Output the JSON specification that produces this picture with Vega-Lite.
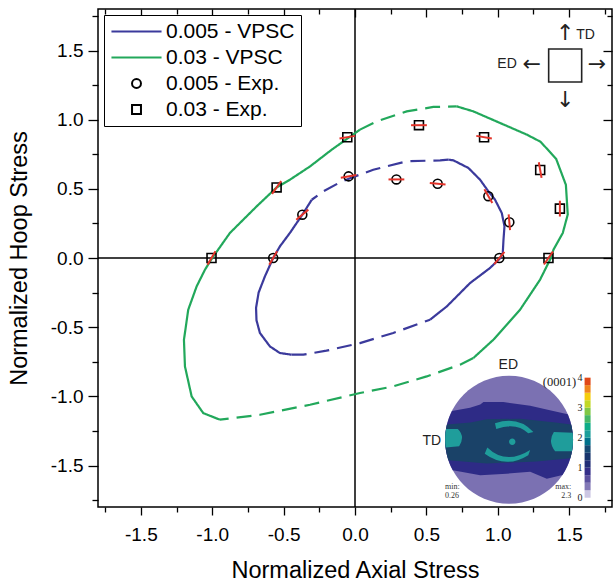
{
  "$schema": "https://vega.github.io/schema/vega-lite/v6.json",
  "width": 514,
  "height": 498,
  "autosize": {"type": "none"},
  "padding": {"left": 98, "top": 9, "right": 2, "bottom": 74},
  "background": "white",
  "config": {
    "view": {"stroke": "black", "strokeWidth": 1.5},
    "font": "Liberation Sans",
    "axis": {
      "domain": false,
      "grid": false,
      "tickColor": "black",
      "tickWidth": 1.3,
      "labelColor": "black",
      "labelFont": "Liberation Sans",
      "labelFontSize": 19,
      "titleFont": "Liberation Sans",
      "titleFontSize": 23.5,
      "titleFontWeight": "normal",
      "titleColor": "black",
      "labelOverlap": false,
      "labelFlush": false,
      "labelBound": false
    }
  },
  "datasets": {
    "curves": [
      {"series": "0.005 - VPSC", "seg": "b1", "style": "solid", "i": 0, "x": -0.303, "y": 0.421},
      {"series": "0.005 - VPSC", "seg": "b1", "style": "solid", "i": 1, "x": -0.369, "y": 0.313},
      {"series": "0.005 - VPSC", "seg": "b1", "style": "solid", "i": 2, "x": -0.456, "y": 0.181},
      {"series": "0.005 - VPSC", "seg": "b1", "style": "solid", "i": 3, "x": -0.526, "y": 0.084},
      {"series": "0.005 - VPSC", "seg": "b1", "style": "solid", "i": 4, "x": -0.573, "y": 0.0},
      {"series": "0.005 - VPSC", "seg": "b1", "style": "solid", "i": 5, "x": -0.631, "y": -0.133},
      {"series": "0.005 - VPSC", "seg": "b1", "style": "solid", "i": 6, "x": -0.675, "y": -0.25},
      {"series": "0.005 - VPSC", "seg": "b1", "style": "solid", "i": 7, "x": -0.693, "y": -0.36},
      {"series": "0.005 - VPSC", "seg": "b1", "style": "solid", "i": 8, "x": -0.69, "y": -0.45},
      {"series": "0.005 - VPSC", "seg": "b1", "style": "solid", "i": 9, "x": -0.666, "y": -0.542},
      {"series": "0.005 - VPSC", "seg": "b1", "style": "solid", "i": 10, "x": -0.596, "y": -0.639},
      {"series": "0.005 - VPSC", "seg": "b1", "style": "solid", "i": 11, "x": -0.526, "y": -0.687},
      {"series": "0.005 - VPSC", "seg": "b1", "style": "solid", "i": 12, "x": -0.444, "y": -0.699},
      {"series": "0.005 - VPSC", "seg": "b2", "style": "dashed", "i": 0, "x": -0.444, "y": -0.699},
      {"series": "0.005 - VPSC", "seg": "b2", "style": "dashed", "i": 1, "x": -0.362, "y": -0.699},
      {"series": "0.005 - VPSC", "seg": "b2", "style": "dashed", "i": 2, "x": -0.2, "y": -0.67},
      {"series": "0.005 - VPSC", "seg": "b2", "style": "dashed", "i": 3, "x": 0.035, "y": -0.615},
      {"series": "0.005 - VPSC", "seg": "b2", "style": "dashed", "i": 4, "x": 0.268, "y": -0.542},
      {"series": "0.005 - VPSC", "seg": "b2", "style": "dashed", "i": 5, "x": 0.526, "y": -0.446},
      {"series": "0.005 - VPSC", "seg": "b3", "style": "solid", "i": 0, "x": 0.526, "y": -0.446},
      {"series": "0.005 - VPSC", "seg": "b3", "style": "solid", "i": 1, "x": 0.643, "y": -0.35},
      {"series": "0.005 - VPSC", "seg": "b3", "style": "solid", "i": 2, "x": 0.806, "y": -0.181},
      {"series": "0.005 - VPSC", "seg": "b3", "style": "solid", "i": 3, "x": 0.946, "y": -0.072},
      {"series": "0.005 - VPSC", "seg": "b3", "style": "solid", "i": 4, "x": 1.018, "y": 0.0},
      {"series": "0.005 - VPSC", "seg": "b3", "style": "solid", "i": 5, "x": 1.035, "y": 0.036},
      {"series": "0.005 - VPSC", "seg": "b3", "style": "solid", "i": 6, "x": 1.04, "y": 0.132},
      {"series": "0.005 - VPSC", "seg": "b3", "style": "solid", "i": 7, "x": 1.047, "y": 0.229},
      {"series": "0.005 - VPSC", "seg": "b3", "style": "solid", "i": 8, "x": 1.028, "y": 0.325},
      {"series": "0.005 - VPSC", "seg": "b3", "style": "solid", "i": 9, "x": 0.981, "y": 0.421},
      {"series": "0.005 - VPSC", "seg": "b3", "style": "solid", "i": 10, "x": 0.934, "y": 0.482},
      {"series": "0.005 - VPSC", "seg": "b3", "style": "solid", "i": 11, "x": 0.876, "y": 0.566},
      {"series": "0.005 - VPSC", "seg": "b3", "style": "solid", "i": 12, "x": 0.794, "y": 0.651},
      {"series": "0.005 - VPSC", "seg": "b3", "style": "solid", "i": 13, "x": 0.689, "y": 0.706},
      {"series": "0.005 - VPSC", "seg": "b3", "style": "solid", "i": 14, "x": 0.654, "y": 0.711},
      {"series": "0.005 - VPSC", "seg": "b4", "style": "dashed", "i": 0, "x": 0.654, "y": 0.711},
      {"series": "0.005 - VPSC", "seg": "b4", "style": "dashed", "i": 1, "x": 0.596, "y": 0.706},
      {"series": "0.005 - VPSC", "seg": "b4", "style": "dashed", "i": 2, "x": 0.362, "y": 0.699},
      {"series": "0.005 - VPSC", "seg": "b4", "style": "dashed", "i": 3, "x": 0.128, "y": 0.638},
      {"series": "0.005 - VPSC", "seg": "b4", "style": "dashed", "i": 4, "x": 0.0, "y": 0.59},
      {"series": "0.005 - VPSC", "seg": "b4", "style": "dashed", "i": 5, "x": -0.105, "y": 0.547},
      {"series": "0.005 - VPSC", "seg": "b4", "style": "dashed", "i": 6, "x": -0.222, "y": 0.482},
      {"series": "0.005 - VPSC", "seg": "b4", "style": "dashed", "i": 7, "x": -0.303, "y": 0.421},
      {"series": "0.03 - VPSC", "seg": "g1", "style": "solid", "i": 0, "x": -0.946, "y": -1.169},
      {"series": "0.03 - VPSC", "seg": "g1", "style": "solid", "i": 1, "x": -1.063, "y": -1.121},
      {"series": "0.03 - VPSC", "seg": "g1", "style": "solid", "i": 2, "x": -1.144, "y": -1.001},
      {"series": "0.03 - VPSC", "seg": "g1", "style": "solid", "i": 3, "x": -1.191, "y": -0.784},
      {"series": "0.03 - VPSC", "seg": "g1", "style": "solid", "i": 4, "x": -1.198, "y": -0.591},
      {"series": "0.03 - VPSC", "seg": "g1", "style": "solid", "i": 5, "x": -1.168, "y": -0.374},
      {"series": "0.03 - VPSC", "seg": "g1", "style": "solid", "i": 6, "x": -1.109, "y": -0.205},
      {"series": "0.03 - VPSC", "seg": "g1", "style": "solid", "i": 7, "x": -1.051, "y": -0.085},
      {"series": "0.03 - VPSC", "seg": "g1", "style": "solid", "i": 8, "x": -1.0, "y": 0.0},
      {"series": "0.03 - VPSC", "seg": "g1", "style": "solid", "i": 9, "x": -0.876, "y": 0.181},
      {"series": "0.03 - VPSC", "seg": "g1", "style": "solid", "i": 10, "x": -0.689, "y": 0.373},
      {"series": "0.03 - VPSC", "seg": "g1", "style": "solid", "i": 11, "x": -0.549, "y": 0.51},
      {"series": "0.03 - VPSC", "seg": "g1", "style": "solid", "i": 12, "x": -0.456, "y": 0.566},
      {"series": "0.03 - VPSC", "seg": "g1", "style": "solid", "i": 13, "x": -0.315, "y": 0.662},
      {"series": "0.03 - VPSC", "seg": "g1", "style": "solid", "i": 14, "x": -0.163, "y": 0.783},
      {"series": "0.03 - VPSC", "seg": "g1", "style": "solid", "i": 15, "x": 0.035, "y": 0.928},
      {"series": "0.03 - VPSC", "seg": "g2", "style": "dashed", "i": 0, "x": 0.035, "y": 0.928},
      {"series": "0.03 - VPSC", "seg": "g2", "style": "dashed", "i": 1, "x": 0.152, "y": 0.988},
      {"series": "0.03 - VPSC", "seg": "g2", "style": "dashed", "i": 2, "x": 0.362, "y": 1.06},
      {"series": "0.03 - VPSC", "seg": "g2", "style": "dashed", "i": 3, "x": 0.549, "y": 1.092},
      {"series": "0.03 - VPSC", "seg": "g2", "style": "dashed", "i": 4, "x": 0.713, "y": 1.096},
      {"series": "0.03 - VPSC", "seg": "g3", "style": "solid", "i": 0, "x": 0.713, "y": 1.096},
      {"series": "0.03 - VPSC", "seg": "g3", "style": "solid", "i": 1, "x": 0.829, "y": 1.06},
      {"series": "0.03 - VPSC", "seg": "g3", "style": "solid", "i": 2, "x": 1.016, "y": 0.976},
      {"series": "0.03 - VPSC", "seg": "g3", "style": "solid", "i": 3, "x": 1.203, "y": 0.892},
      {"series": "0.03 - VPSC", "seg": "g3", "style": "solid", "i": 4, "x": 1.3, "y": 0.84},
      {"series": "0.03 - VPSC", "seg": "g3", "style": "solid", "i": 5, "x": 1.409, "y": 0.716},
      {"series": "0.03 - VPSC", "seg": "g3", "style": "solid", "i": 6, "x": 1.477, "y": 0.529},
      {"series": "0.03 - VPSC", "seg": "g3", "style": "solid", "i": 7, "x": 1.49, "y": 0.314},
      {"series": "0.03 - VPSC", "seg": "g3", "style": "solid", "i": 8, "x": 1.455, "y": 0.18},
      {"series": "0.03 - VPSC", "seg": "g3", "style": "solid", "i": 9, "x": 1.39, "y": 0.06},
      {"series": "0.03 - VPSC", "seg": "g3", "style": "solid", "i": 10, "x": 1.372, "y": 0.0},
      {"series": "0.03 - VPSC", "seg": "g3", "style": "solid", "i": 11, "x": 1.296, "y": -0.157},
      {"series": "0.03 - VPSC", "seg": "g3", "style": "solid", "i": 12, "x": 1.156, "y": -0.374},
      {"series": "0.03 - VPSC", "seg": "g3", "style": "solid", "i": 13, "x": 0.969, "y": -0.591},
      {"series": "0.03 - VPSC", "seg": "g3", "style": "solid", "i": 14, "x": 0.829, "y": -0.723},
      {"series": "0.03 - VPSC", "seg": "g4", "style": "dashed", "i": 0, "x": 0.829, "y": -0.723},
      {"series": "0.03 - VPSC", "seg": "g4", "style": "dashed", "i": 1, "x": 0.736, "y": -0.771},
      {"series": "0.03 - VPSC", "seg": "g4", "style": "dashed", "i": 2, "x": 0.502, "y": -0.856},
      {"series": "0.03 - VPSC", "seg": "g4", "style": "dashed", "i": 3, "x": 0.268, "y": -0.928},
      {"series": "0.03 - VPSC", "seg": "g4", "style": "dashed", "i": 4, "x": 0.035, "y": -0.976},
      {"series": "0.03 - VPSC", "seg": "g4", "style": "dashed", "i": 5, "x": -0.315, "y": -1.061},
      {"series": "0.03 - VPSC", "seg": "g4", "style": "dashed", "i": 6, "x": -0.666, "y": -1.133},
      {"series": "0.03 - VPSC", "seg": "g4", "style": "dashed", "i": 7, "x": -0.946, "y": -1.169}
    ],
    "exp": [
      {"series": "0.005 - Exp.", "x": -0.573, "y": 0.0, "dir": 300},
      {"series": "0.005 - Exp.", "x": -0.369, "y": 0.313, "dir": 320},
      {"series": "0.005 - Exp.", "x": -0.045, "y": 0.59, "dir": 350},
      {"series": "0.005 - Exp.", "x": 0.29, "y": 0.568, "dir": 0},
      {"series": "0.005 - Exp.", "x": 0.579, "y": 0.537, "dir": 5},
      {"series": "0.005 - Exp.", "x": 0.934, "y": 0.447, "dir": 60},
      {"series": "0.005 - Exp.", "x": 1.081, "y": 0.259, "dir": 85},
      {"series": "0.005 - Exp.", "x": 1.011, "y": 0.0, "dir": 310},
      {"series": "0.03 - Exp.", "x": -1.005, "y": 0.0, "dir": 300},
      {"series": "0.03 - Exp.", "x": -0.549, "y": 0.51, "dir": 305},
      {"series": "0.03 - Exp.", "x": -0.054, "y": 0.873, "dir": 350},
      {"series": "0.03 - Exp.", "x": 0.448, "y": 0.96, "dir": 0},
      {"series": "0.03 - Exp.", "x": 0.904, "y": 0.873, "dir": 10},
      {"series": "0.03 - Exp.", "x": 1.297, "y": 0.636, "dir": 80},
      {"series": "0.03 - Exp.", "x": 1.435, "y": 0.357, "dir": 90},
      {"series": "0.03 - Exp.", "x": 1.355, "y": 0.0, "dir": 305}
    ],
    "pf": [{"x": 1.079, "y": -1.314}],
    "cbar": [
      {"v": 0.125, "y0": -1.733, "y1": -1.679},
      {"v": 0.375, "y0": -1.679, "y1": -1.625},
      {"v": 0.625, "y0": -1.625, "y1": -1.57},
      {"v": 0.875, "y0": -1.57, "y1": -1.516},
      {"v": 1.125, "y0": -1.516, "y1": -1.462},
      {"v": 1.375, "y0": -1.462, "y1": -1.408},
      {"v": 1.625, "y0": -1.408, "y1": -1.353},
      {"v": 1.875, "y0": -1.353, "y1": -1.299},
      {"v": 2.125, "y0": -1.299, "y1": -1.245},
      {"v": 2.375, "y0": -1.245, "y1": -1.191},
      {"v": 2.625, "y0": -1.191, "y1": -1.136},
      {"v": 2.875, "y0": -1.136, "y1": -1.082},
      {"v": 3.125, "y0": -1.082, "y1": -1.028},
      {"v": 3.375, "y0": -1.028, "y1": -0.974},
      {"v": 3.625, "y0": -0.974, "y1": -0.919},
      {"v": 3.875, "y0": -0.919, "y1": -0.865}
    ],
    "cbarlab": [
      {"t": "0", "y": -1.733},
      {"t": "1", "y": -1.516},
      {"t": "2", "y": -1.299},
      {"t": "3", "y": -1.082},
      {"t": "4", "y": -0.87}
    ],
    "sansC": [
      {"x": 1.065, "y": 1.4, "t": "ED"},
      {"x": 1.074, "y": -0.772, "t": "ED"}
    ],
    "sansL": [{"x": 1.549, "y": 1.615, "t": "TD"}],
    "sansR": [{"x": 0.603, "y": -1.326, "t": "TD"}],
    "arrows": [
      {"x": 1.238, "y": 1.4, "t": "←"},
      {"x": 1.694, "y": 1.4, "t": "→"},
      {"x": 1.472, "y": 1.627, "t": "↑"},
      {"x": 1.472, "y": 1.145, "t": "↓"}
    ],
    "box": [{"x": 1.472, "y": 1.392}],
    "serifL": [
      {"x": 0.631, "y": -1.656, "t": "min:"},
      {"x": 0.631, "y": -1.724, "t": "0.26"}
    ],
    "serifR": [
      {"x": 1.514, "y": -1.656, "t": "max:"},
      {"x": 1.514, "y": -1.724, "t": "2.3"}
    ],
    "pole": [{"x": 1.549, "y": -0.893, "t": "(0001)"}]
  },
  "layer": [
    {
      "data": {"name": "pf"},
      "mark": {"type": "rule", "color": "black", "strokeWidth": 1.5},
      "encoding": {
        "x": {"datum": 0, "type": "quantitative", "scale": {"domain": [-1.8, 1.8], "nice": false, "zero": false}, "axis": null}
      }
    },
    {
      "data": {"name": "pf"},
      "mark": {"type": "rule", "color": "black", "strokeWidth": 1.5},
      "encoding": {
        "y": {"datum": 0, "type": "quantitative", "scale": {"domain": [-1.8, 1.8], "nice": false, "zero": false}, "axis": null}
      }
    },
    {
      "data": {"name": "curves"},
      "mark": {"type": "line", "strokeWidth": 2.2},
      "encoding": {
        "x": {
          "field": "x", "type": "quantitative",
          "scale": {"domain": [-1.8, 1.8], "nice": false, "zero": false},
          "axis": {
            "orient": "bottom",
            "title": "Normalized Axial Stress",
            "values": [-1.75, -1.5, -1.25, -1, -0.75, -0.5, -0.25, 0, 0.25, 0.5, 0.75, 1, 1.25, 1.5, 1.75],
            "labelExpr": "abs(datum.value*2 - round(datum.value*2)) < 0.01 ? (datum.value < 0 ? '-' : '') + format(abs(datum.value), '.1f') : ''",
            "tickSize": {"condition": {"test": "abs(datum.value*2 - round(datum.value*2)) < 0.01", "value": 8}, "value": 5},
            "labelPadding": 10,
            "titlePadding": 14
          }
        },
        "y": {
          "field": "y", "type": "quantitative",
          "scale": {"domain": [-1.8, 1.8], "nice": false, "zero": false},
          "axis": {
            "orient": "left",
            "title": "Normalized Hoop Stress",
            "values": [-1.75, -1.5, -1.25, -1, -0.75, -0.5, -0.25, 0, 0.25, 0.5, 0.75, 1, 1.25, 1.5, 1.75],
            "labelExpr": "abs(datum.value*2 - round(datum.value*2)) < 0.01 ? (datum.value < 0 ? '-' : '') + format(abs(datum.value), '.1f') : ''",
            "tickSize": {"condition": {"test": "abs(datum.value*2 - round(datum.value*2)) < 0.01", "value": 10}, "value": 6},
            "labelPadding": 5,
            "titlePadding": 19
          }
        },
        "color": {
          "field": "series", "type": "nominal",
          "scale": {"domain": ["0.005 - VPSC", "0.03 - VPSC", "0.005 - Exp.", "0.03 - Exp."], "range": ["#3b3a9c", "#22a85b", "black", "black"]},
          "legend": {"title": null, "orient": "top-left", "offset": 6, "strokeColor": "black", "fillColor": "white", "padding": 6, "labelFontSize": 21, "labelFont": "Liberation Sans", "labelColor": "black", "labelOffset": 19, "symbolOffset": 16, "symbolSize": 80, "rowPadding": 4, "symbolStrokeWidth": 2, "labelLimit": 300}
        },
        "strokeDash": {"field": "style", "type": "nominal", "scale": {"domain": ["solid", "dashed"], "range": [[1, 0], [15, 8]]}, "legend": null},
        "detail": {"field": "seg"},
        "order": {"field": "i", "type": "quantitative"}
      }
    },
    {
      "data": {"name": "pf"},
      "mark": {"type": "point", "shape": "M-1,0A1,1,0,1,1,1,0A1,1,0,1,1,-1,0Z", "filled": true, "color": "#7b71b2", "opacity": 1, "size": 16384, "strokeWidth": 0},
      "encoding": {
        "x": {"field": "x", "type": "quantitative", "scale": {"domain": [-1.8, 1.8], "nice": false, "zero": false}, "axis": null},
        "y": {"field": "y", "type": "quantitative", "scale": {"domain": [-1.8, 1.8], "nice": false, "zero": false}, "axis": null}
      }
    },
    {
      "data": {"name": "pf"},
      "mark": {"type": "point", "shape": "M-0.893,-0.45L-0.61,-0.5L-0.45,-0.55L-0.4,-0.59L-0.09,-0.59L0.33,-0.53L0.69,-0.45L0.917,-0.4A1,1,0,0,1,0.835,0.55L0.59,0.61L0.33,0.5L-0.04,0.53L-0.45,0.556L-0.879,0.476A1,1,0,0,1,-0.893,-0.45Z", "filled": true, "color": "#2e2b86", "opacity": 1, "size": 16384, "strokeWidth": 0},
      "encoding": {
        "x": {"field": "x", "type": "quantitative", "scale": {"domain": [-1.8, 1.8], "nice": false, "zero": false}, "axis": null},
        "y": {"field": "y", "type": "quantitative", "scale": {"domain": [-1.8, 1.8], "nice": false, "zero": false}, "axis": null}
      }
    },
    {
      "data": {"name": "pf"},
      "mark": {"type": "point", "shape": "M-0.97,-0.24L-0.6,-0.27L-0.35,-0.32L0.17,-0.33L0.69,-0.275L0.97,-0.24A1,1,0,0,1,0.957,0.29L0.43,0.34L-0.35,0.37L-0.947,0.32A1,1,0,0,1,-0.97,-0.24Z", "filled": true, "color": "#1a4268", "opacity": 1, "size": 16384, "strokeWidth": 0},
      "encoding": {
        "x": {"field": "x", "type": "quantitative", "scale": {"domain": [-1.8, 1.8], "nice": false, "zero": false}, "axis": null},
        "y": {"field": "y", "type": "quantitative", "scale": {"domain": [-1.8, 1.8], "nice": false, "zero": false}, "axis": null}
      }
    },
    {
      "data": {"name": "pf"},
      "mark": {"type": "point", "shape": "M-0.986,-0.17L-0.8,-0.17Q-0.68,-0.05,-0.78,0.1L-0.99,0.12A1,1,0,0,1,-0.986,-0.17ZM0.994,-0.11L0.7,-0.12Q0.6,0.03,0.72,0.18L0.984,0.18A1,1,0,0,0,0.994,-0.11ZM-0.22,-0.26Q0.15,-0.38,0.38,-0.12L0.3,-0.1Q0.12,-0.28,-0.2,-0.17ZM-0.34,0.12Q-0.05,0.4,0.33,0.16L0.3,0.24Q-0.05,0.46,-0.38,0.22ZM0,0.03A0.05,0.05,0,1,1,0.1,0.03A0.05,0.05,0,1,1,0,0.03Z", "filled": true, "color": "#1f9d9b", "opacity": 1, "size": 16384, "strokeWidth": 0},
      "encoding": {
        "x": {"field": "x", "type": "quantitative", "scale": {"domain": [-1.8, 1.8], "nice": false, "zero": false}, "axis": null},
        "y": {"field": "y", "type": "quantitative", "scale": {"domain": [-1.8, 1.8], "nice": false, "zero": false}, "axis": null}
      }
    },
    {
      "data": {"name": "cbar"},
      "mark": {"type": "rect"},
      "encoding": {
        "x": {"datum": 1.608, "type": "quantitative", "scale": {"domain": [-1.8, 1.8], "nice": false, "zero": false}, "axis": null},
        "x2": {"datum": 1.65},
        "y": {"field": "y0", "type": "quantitative", "scale": {"domain": [-1.8, 1.8], "nice": false, "zero": false}, "axis": null},
        "y2": {"field": "y1"},
        "fill": {"field": "v", "type": "quantitative", "legend": null,
          "scale": {"type": "linear", "domain": [0, 0.4, 0.9, 1.3, 1.7, 2.1, 2.6, 3.0, 3.3, 3.6, 4], "range": ["#f2f0fa", "#7b71b2", "#2e2b86", "#1c2f6a", "#1b4f74", "#1f9d9b", "#3fb56a", "#a0cf30", "#f2e31b", "#f08a1e", "#d7191c"]}}
      }
    },
    {
      "data": {"name": "cbarlab"},
      "mark": {"type": "text", "font": "Liberation Serif", "fontSize": 10, "align": "right", "baseline": "middle", "color": "#222"},
      "encoding": {
        "x": {"datum": 1.594, "type": "quantitative", "scale": {"domain": [-1.8, 1.8], "nice": false, "zero": false}, "axis": null},
        "y": {"field": "y", "type": "quantitative", "scale": {"domain": [-1.8, 1.8], "nice": false, "zero": false}, "axis": null},
        "text": {"field": "t"}
      }
    },
    {
      "data": {"name": "pole"},
      "mark": {"type": "text", "font": "Liberation Serif", "fontSize": 12.5, "align": "right", "baseline": "middle", "color": "#222"},
      "encoding": {
        "x": {"field": "x", "type": "quantitative", "scale": {"domain": [-1.8, 1.8], "nice": false, "zero": false}, "axis": null},
        "y": {"field": "y", "type": "quantitative", "scale": {"domain": [-1.8, 1.8], "nice": false, "zero": false}, "axis": null},
        "text": {"field": "t"}
      }
    },
    {
      "data": {"name": "serifL"},
      "mark": {"type": "text", "font": "Liberation Serif", "fontSize": 8, "align": "left", "baseline": "middle", "color": "#333"},
      "encoding": {
        "x": {"field": "x", "type": "quantitative", "scale": {"domain": [-1.8, 1.8], "nice": false, "zero": false}, "axis": null},
        "y": {"field": "y", "type": "quantitative", "scale": {"domain": [-1.8, 1.8], "nice": false, "zero": false}, "axis": null},
        "text": {"field": "t"}
      }
    },
    {
      "data": {"name": "serifR"},
      "mark": {"type": "text", "font": "Liberation Serif", "fontSize": 8, "align": "right", "baseline": "middle", "color": "#333"},
      "encoding": {
        "x": {"field": "x", "type": "quantitative", "scale": {"domain": [-1.8, 1.8], "nice": false, "zero": false}, "axis": null},
        "y": {"field": "y", "type": "quantitative", "scale": {"domain": [-1.8, 1.8], "nice": false, "zero": false}, "axis": null},
        "text": {"field": "t"}
      }
    },
    {
      "data": {"name": "sansC"},
      "mark": {"type": "text", "font": "Liberation Sans", "fontSize": 14, "align": "center", "baseline": "middle", "color": "#222"},
      "encoding": {
        "x": {"field": "x", "type": "quantitative", "scale": {"domain": [-1.8, 1.8], "nice": false, "zero": false}, "axis": null},
        "y": {"field": "y", "type": "quantitative", "scale": {"domain": [-1.8, 1.8], "nice": false, "zero": false}, "axis": null},
        "text": {"field": "t"}
      }
    },
    {
      "data": {"name": "sansL"},
      "mark": {"type": "text", "font": "Liberation Sans", "fontSize": 14, "align": "left", "baseline": "middle", "color": "#222"},
      "encoding": {
        "x": {"field": "x", "type": "quantitative", "scale": {"domain": [-1.8, 1.8], "nice": false, "zero": false}, "axis": null},
        "y": {"field": "y", "type": "quantitative", "scale": {"domain": [-1.8, 1.8], "nice": false, "zero": false}, "axis": null},
        "text": {"field": "t"}
      }
    },
    {
      "data": {"name": "sansR"},
      "mark": {"type": "text", "font": "Liberation Sans", "fontSize": 14, "align": "right", "baseline": "middle", "color": "#222"},
      "encoding": {
        "x": {"field": "x", "type": "quantitative", "scale": {"domain": [-1.8, 1.8], "nice": false, "zero": false}, "axis": null},
        "y": {"field": "y", "type": "quantitative", "scale": {"domain": [-1.8, 1.8], "nice": false, "zero": false}, "axis": null},
        "text": {"field": "t"}
      }
    },
    {
      "data": {"name": "arrows"},
      "mark": {"type": "text", "font": "DejaVu Sans", "fontSize": 22, "align": "center", "baseline": "middle", "color": "#222"},
      "encoding": {
        "x": {"field": "x", "type": "quantitative", "scale": {"domain": [-1.8, 1.8], "nice": false, "zero": false}, "axis": null},
        "y": {"field": "y", "type": "quantitative", "scale": {"domain": [-1.8, 1.8], "nice": false, "zero": false}, "axis": null},
        "text": {"field": "t"}
      }
    },
    {
      "data": {"name": "box"},
      "mark": {"type": "point", "shape": "square", "filled": false, "color": "#222", "fill": "white", "opacity": 1, "size": 1089, "strokeWidth": 1.6},
      "encoding": {
        "x": {"field": "x", "type": "quantitative", "scale": {"domain": [-1.8, 1.8], "nice": false, "zero": false}, "axis": null},
        "y": {"field": "y", "type": "quantitative", "scale": {"domain": [-1.8, 1.8], "nice": false, "zero": false}, "axis": null}
      }
    },
    {
      "data": {"name": "exp"},
      "mark": {"type": "point", "filled": false, "opacity": 1, "strokeWidth": 1.6, "size": 80},
      "encoding": {
        "x": {
          "field": "x", "type": "quantitative",
          "scale": {"domain": [-1.8, 1.8], "nice": false, "zero": false},
          "axis": {
            "orient": "top", "title": null, "labels": false,
            "values": [-1.75, -1.5, -1.25, -1, -0.75, -0.5, -0.25, 0, 0.25, 0.5, 0.75, 1, 1.25, 1.5, 1.75],
            "tickSize": {"condition": {"test": "abs(datum.value*2 - round(datum.value*2)) < 0.01", "value": -8}, "value": -5}
          }
        },
        "y": {
          "field": "y", "type": "quantitative",
          "scale": {"domain": [-1.8, 1.8], "nice": false, "zero": false},
          "axis": {
            "orient": "right", "title": null, "labels": false,
            "values": [-1.75, -1.5, -1.25, -1, -0.75, -0.5, -0.25, 0, 0.25, 0.5, 0.75, 1, 1.25, 1.5, 1.75],
            "tickSize": {"condition": {"test": "abs(datum.value*2 - round(datum.value*2)) < 0.01", "value": -9}, "value": -5}
          }
        },
        "color": {
          "field": "series", "type": "nominal",
          "scale": {"domain": ["0.005 - VPSC", "0.03 - VPSC", "0.005 - Exp.", "0.03 - Exp."], "range": ["#3b3a9c", "#22a85b", "black", "black"]},
          "legend": {"title": null, "orient": "top-left", "offset": 6, "strokeColor": "black", "fillColor": "white", "padding": 6, "labelFontSize": 21, "labelFont": "Liberation Sans", "labelColor": "black", "labelOffset": 19, "symbolOffset": 16, "symbolSize": 80, "rowPadding": 4, "symbolStrokeWidth": 2, "labelLimit": 300}
        },
        "shape": {
          "field": "series", "type": "nominal",
          "scale": {"domain": ["0.005 - VPSC", "0.03 - VPSC", "0.005 - Exp.", "0.03 - Exp."], "range": ["M-5.6,0L5.6,0", "M-5.6,0L5.6,0", "circle", "square"]},
          "legend": {"title": null, "orient": "top-left", "offset": 6, "strokeColor": "black", "fillColor": "white", "padding": 6, "labelFontSize": 21, "labelFont": "Liberation Sans", "labelColor": "black", "labelOffset": 19, "symbolOffset": 16, "symbolSize": 80, "rowPadding": 4, "symbolStrokeWidth": 2, "labelLimit": 300}
        }
      }
    },
    {
      "data": {"name": "exp"},
      "mark": {"type": "point", "shape": "stroke", "color": "#e3342a", "opacity": 1, "size": 250, "strokeWidth": 2},
      "encoding": {
        "x": {"field": "x", "type": "quantitative", "scale": {"domain": [-1.8, 1.8], "nice": false, "zero": false}, "axis": null},
        "y": {"field": "y", "type": "quantitative", "scale": {"domain": [-1.8, 1.8], "nice": false, "zero": false}, "axis": null},
        "angle": {"field": "dir", "type": "quantitative", "scale": null}
      }
    }
  ],
  "resolve": {"axis": {"x": "independent", "y": "independent"}}
}
